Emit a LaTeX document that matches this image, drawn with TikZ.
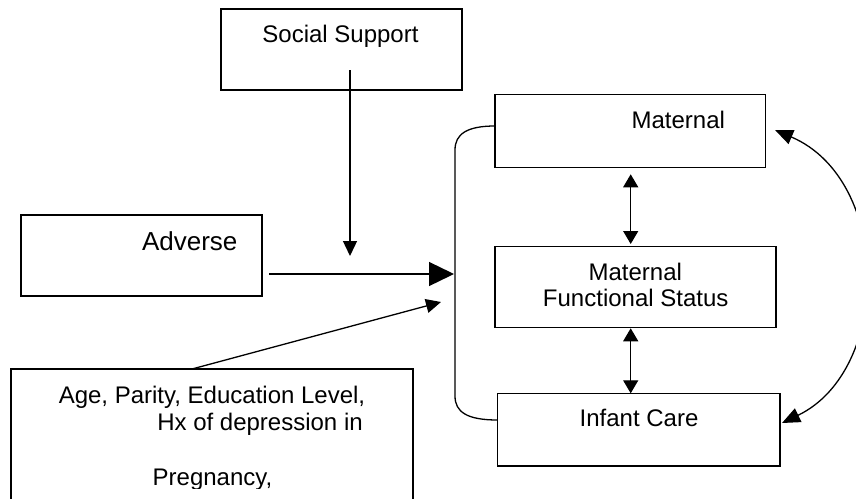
\documentclass[tikz,border=0pt]{standalone}
\usepackage{fontspec}
\setmainfont{Liberation Sans}
\usetikzlibrary{arrows.meta}
\tikzset{
  box/.style={draw, line width=1.3pt, outer sep=0pt, inner sep=0pt},
  txt/.style={inner sep=0pt, outer sep=0pt, font=\fontsize{24}{27}\selectfont},
  conn/.style={line width=1.3pt},
  headS/.style={-{Triangle[length=15pt,width=14pt]}},
  headB/.style={-{Triangle[length=25pt,width=24pt]}},
  headD/.style={{Triangle[length=13pt,width=15pt]}-{Triangle[length=13pt,width=15pt]}},
  headC/.style={{Triangle[length=18pt,width=15pt]}-{Triangle[length=18pt,width=15pt]}}
}
\begin{document}
\begin{tikzpicture}[x=1pt,y=-1pt]
\useasboundingbox (0,0) rectangle (856,498);
\clip (0,0) rectangle (856,498);
% boxes
\node[box, minimum width=241pt, minimum height=81pt] (ss) at (341.5,49.5) {};
\node[box, minimum width=241pt, minimum height=81pt] (adv) at (141.5,255.5) {};
\node[box, minimum width=402pt, minimum height=160pt] (age) at (212,449) {};
\node[box, minimum width=270.7pt, minimum height=73.4pt] (mat) at (630.35,131) {};
\node[box, minimum width=281pt, minimum height=80.6pt] (mfs) at (635.5,287) {};
\node[box, minimum width=282.3pt, minimum height=72.7pt] (inf) at (638.85,429.65) {};
% texts
\node[txt, anchor=base] (sst) at (340.5,42.7) {Social Support};
\node[txt, anchor=base west, font=\fontsize{26}{30}\selectfont] (advt) at (142,250.7) {Adverse};
\begin{scope}
\clip (11,369) rectangle (413,488);
\node[txt, anchor=base] (aget1) at (212,403.3) {Age, Parity, Education Level,};
\node[txt, anchor=base] (aget2) at (260,430) {Hx of depression in};
\node[txt, anchor=base] (aget3) at (212.5,485) {Pregnancy,};
\end{scope}
\node[txt, anchor=base] (matt) at (678.3,128.3) {Maternal};
\node[txt, anchor=base] (mfst1) at (635.3,280) {Maternal};
\node[txt, anchor=base] (mfst2) at (635.7,306.7) {Functional Status};
\node[txt, anchor=base] (inft) at (639,426.7) {Infant Care};
% connector coordinates
\coordinate (ssfrom) at (350,70);
\coordinate (sstip) at (350,256);
\coordinate (advfrom) at (269,274);
\coordinate (bracktip) at (454,274);
\coordinate (agefrom) at (192,369);
\coordinate (agetip) at (441,302);
\coordinate (d1a) at (630.7,174.3);
\coordinate (d1b) at (630.7,244);
\coordinate (d2a) at (630.7,328.3);
\coordinate (d2b) at (630.7,393.3);
\coordinate (mattip) at (775,130);
\coordinate (inftip) at (782,423);
\coordinate (bt) at (mat.west |- 0,126);
\coordinate (bb) at (inf.west |- 0,420);
% connectors
\draw[conn, headS] (ssfrom) -- (sstip);
\draw[conn, headB] (advfrom) -- (bracktip);
\draw[conn, headS] (agefrom) -- (agetip);
\draw[conn, headD] (d1a) -- (d1b);
\draw[conn, headD] (d2a) -- (d2b);
\draw[conn] (bt) .. controls (467,126) and (455,134) .. (455,150) -- (455,396) .. controls (455,412) and (467,420) .. (bb);
\draw[conn, headC] (mattip) .. controls (892,180) and (892,370) .. (inftip);
\end{tikzpicture}
\end{document}
